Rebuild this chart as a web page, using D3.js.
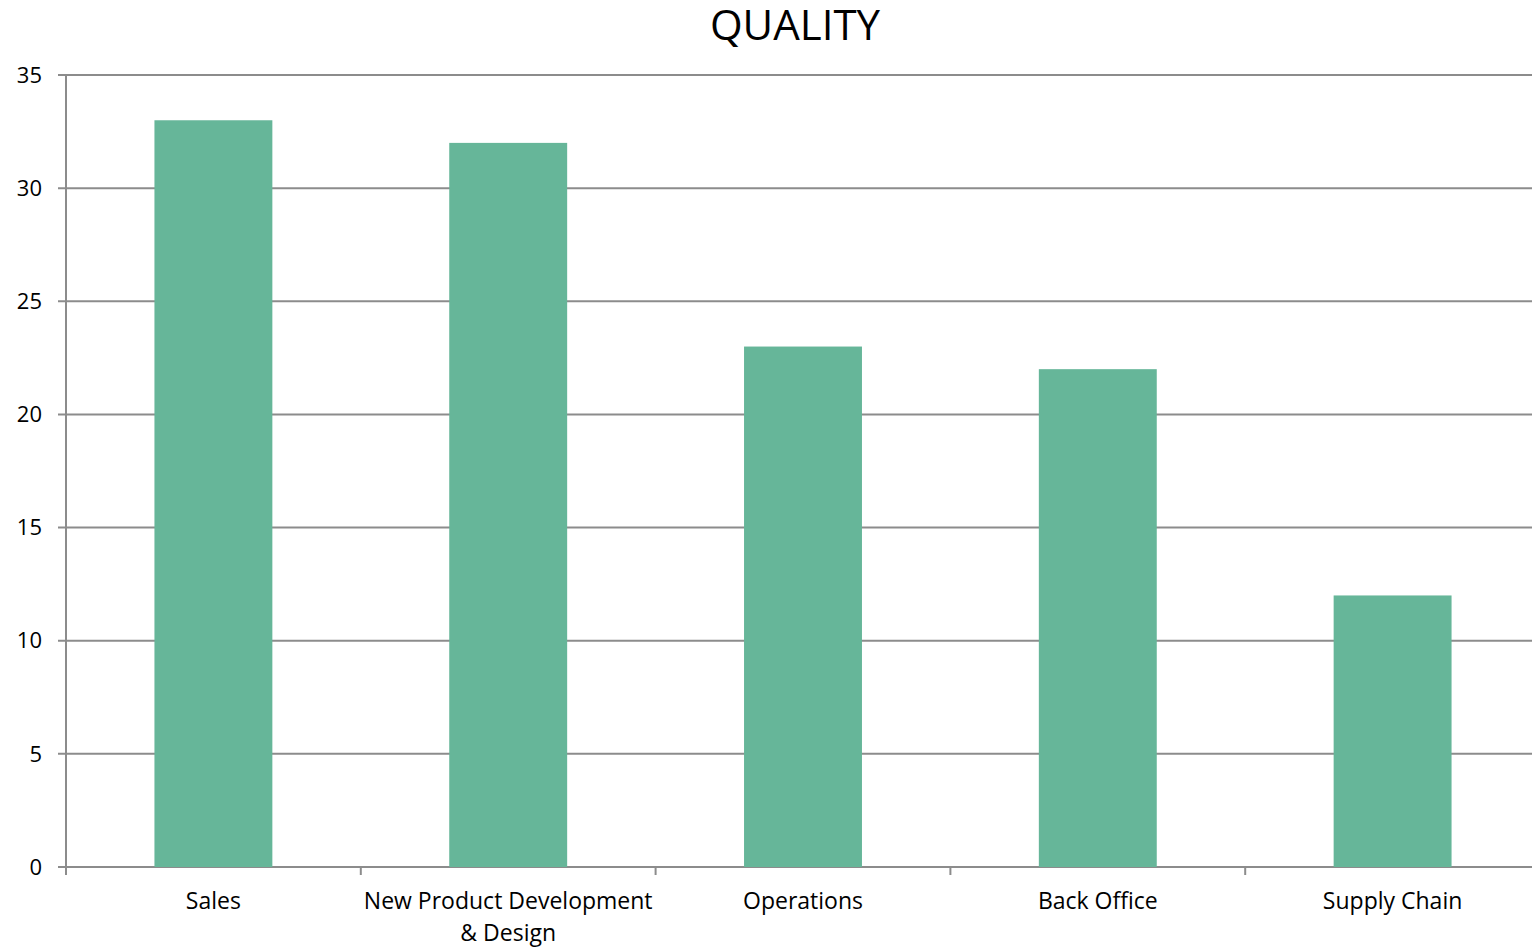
<!DOCTYPE html>
<html>
<head>
<meta charset="utf-8">
<script src="https://cdn.jsdelivr.net/npm/d3@7"></script>
<style>
  body { margin: 0; background: #fff; }
  text { font-family: "Open Sans", "Noto Sans", sans-serif; fill: #000; }
</style>
</head>
<body>
<div id="chart"></div>
<script>
var categories = [["Sales"], ["New Product Development", "& Design"], ["Operations"], ["Back Office"], ["Supply Chain"]];
var values = [33, 32, 23, 22, 12];
var yTicks = [0, 5, 10, 15, 20, 25, 30, 35];

var width = 1532, height = 948;
// plot area runs a little past the right edge of the picture
var plotLeft = 66, plotRight = 1540, plotTop = 75, plotBottom = 867;

var svg = d3.select("#chart").append("svg")
  .attr("width", width)
  .attr("height", height);

var x = d3.scaleBand()
  .domain(d3.range(categories.length))
  .range([plotLeft, plotRight])
  .paddingInner(0.6)
  .paddingOuter(0.3);

var y = d3.scaleLinear().domain([0, 35]).range([plotBottom, plotTop]);

//Gridlines
svg.selectAll("line.grid")
  .data(yTicks)
  .enter().append("line")
  .attr("class", "grid")
  .attr("x1", plotLeft - 8)
  .attr("x2", plotRight)
  .attr("y1", function (d) { return y(d); })
  .attr("y2", function (d) { return y(d); })
  .attr("stroke", "#8c8c8c")
  .attr("stroke-width", 2);

//Y labels
svg.selectAll("text.ylab")
  .data(yTicks)
  .enter().append("text")
  .attr("class", "ylab")
  .attr("x", 42)
  .attr("y", function (d) { return y(d); })
  .attr("dy", "0.35em")
  .attr("text-anchor", "end")
  .attr("font-size", 22)
  .text(function (d) { return d; });

//Bars
svg.selectAll("rect")
  .data(values)
  .enter().append("rect")
  .attr("x", function (d, i) { return x(i); })
  .attr("width", x.bandwidth())
  .attr("y", function (d) { return y(d); })
  .attr("height", function (d) { return y(0) - y(d); })
  .attr("fill", "#66b699");

//Axes
svg.append("line")
  .attr("x1", plotLeft).attr("x2", plotLeft)
  .attr("y1", plotTop).attr("y2", plotBottom + 8)
  .attr("stroke", "#8c8c8c").attr("stroke-width", 2);

svg.selectAll("line.xtick")
  .data(d3.range(categories.length))
  .enter().append("line")
  .attr("class", "xtick")
  .attr("x1", function (d) { return x(d) - x.step() * 0.3; })
  .attr("x2", function (d) { return x(d) - x.step() * 0.3; })
  .attr("y1", plotBottom)
  .attr("y2", plotBottom + 8)
  .attr("stroke", "#8c8c8c").attr("stroke-width", 2);

//Category labels
var lab = svg.selectAll("text.xlab")
  .data(categories)
  .enter().append("text")
  .attr("class", "xlab")
  .attr("text-anchor", "middle")
  .attr("font-size", 23)
  .attr("x", function (d, i) { return x(i) + x.bandwidth() / 2; })
  .attr("y", 909);

lab.selectAll("tspan")
  .data(function (d) { return d; })
  .enter().append("tspan")
  .attr("x", function () { return d3.select(this.parentNode).attr("x"); })
  .attr("dy", function (d, i) { return i === 0 ? 0 : 32; })
  .text(function (d) { return d; });

//Title
svg.append("text")
  .attr("x", 795)
  .attr("y", 40)
  .attr("text-anchor", "middle")
  .attr("font-size", 42)
  .text("QUALITY");
</script>
</body>
</html>
